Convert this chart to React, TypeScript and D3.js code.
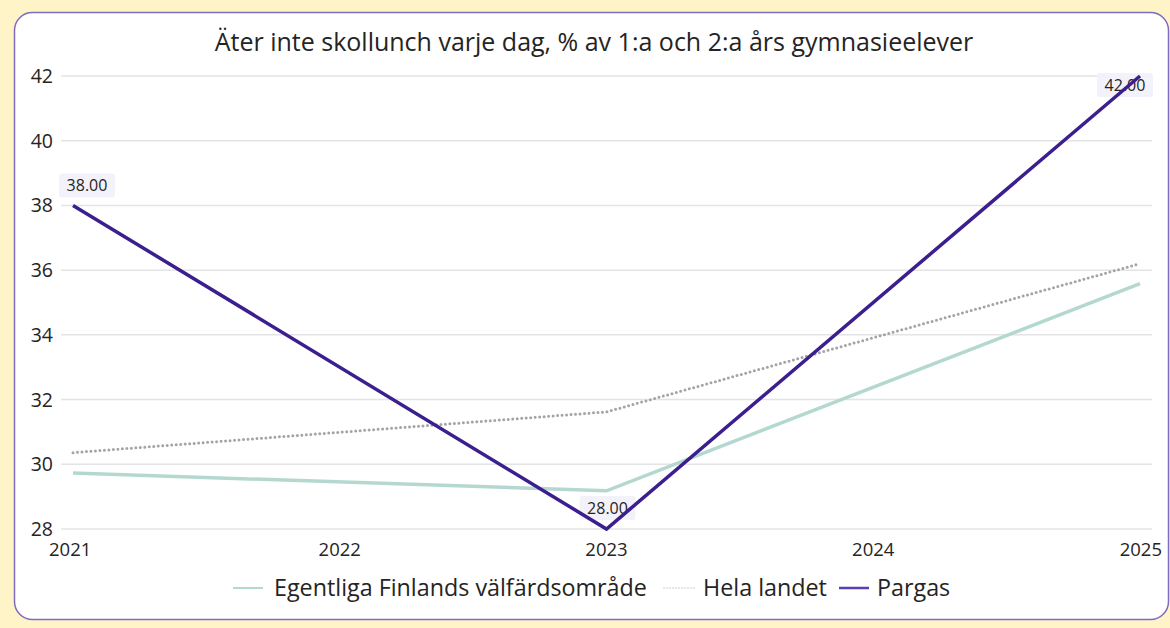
import React from "react";
import * as d3 from "d3";

const years = [2021, 2022, 2023, 2024, 2025];
const dataYears = [2021, 2023, 2025];
const egentliga = [29.73, 29.18, 35.58];
const helaLandet = [30.36, 31.62, 36.2];
const pargas = [38, 28, 42];
const yTicks = [28, 30, 32, 34, 36, 38, 40, 42];
const seriesNames = ["Egentliga Finlands välfärdsområde", "Hela landet", "Pargas"];
const title = "Äter inte skollunch varje dag, % av 1:a och 2:a års gymnasieelever";

const W = 1170;
const H = 628;
const FONT = "'Open Sans', 'Noto Sans', sans-serif";
const TXT = "#252423";

export default function App() {
  const x = d3.scaleLinear().domain([2021, 2025]).range([73, 1140]);
  const y = d3.scaleLinear().domain([28, 42]).range([529, 76]);
  const line = d3
    .line<number>()
    .x((_, i) => x(dataYears[i]))
    .y((d) => y(d));

  const labelBox = (cx: number, cy: number, text: string, key: string) => (
    <g key={key}>
      <rect x={cx - 28} y={cy - 12} width={56} height={24} rx={3} fill="#f3f1f9" />
      <text x={cx} y={cy + 6} textAnchor="middle" fontSize={16} fill={TXT} fontFamily={FONT}>
        {text}
      </text>
    </g>
  );

  return (
    <div style={{ position: "fixed", left: 0, top: 0 }}>
      <svg width={W} height={H} style={{ display: "block" }}>
        <rect x={0} y={0} width={W} height={H} fill="#fff3c8" />
        <rect x={14.5} y={12.5} width={1154} height={607} rx={18} fill="#ffffff" stroke="#7d6cc0" strokeWidth={1.5} />
        <text x={594} y={51} textAnchor="middle" fontSize={25} fill={TXT} fontFamily={FONT}>
          {title}
        </text>
        {yTicks.map((t) => (
          <g key={t}>
            <line x1={61} x2={1152} y1={y(t)} y2={y(t)} stroke="#e4e4e4" strokeWidth={1.5} />
            <text x={53} y={y(t) + 7} textAnchor="end" fontSize={19.5} fill={TXT} fontFamily={FONT}>
              {t}
            </text>
          </g>
        ))}
        {years.map((yr, i) => (
          <text
            key={yr}
            x={i === 0 ? x(yr) - 24 : i === years.length - 1 ? x(yr) + 22 : x(yr)}
            y={556}
            textAnchor={i === 0 ? "start" : i === years.length - 1 ? "end" : "middle"}
            fontSize={18.5}
            fill={TXT}
            fontFamily={FONT}
          >
            {yr}
          </text>
        ))}
        <path d={line(egentliga) || ""} fill="none" stroke="#b4d8d0" strokeWidth={3.5} />
        <path
          d={line(helaLandet) || ""}
          fill="none"
          stroke="#a4a4a4"
          strokeWidth={3}
          strokeDasharray="0 4.5"
          strokeLinecap="round"
        />
        {labelBox(x(dataYears[0]) + 14, y(pargas[0]) - 20, pargas[0].toFixed(2), "l0")}
        {labelBox(x(dataYears[1]) + 1, y(pargas[1]) - 21, pargas[1].toFixed(2), "l1")}
        {labelBox(x(dataYears[2]) - 15, y(pargas[2]) + 9, pargas[2].toFixed(2), "l2")}
        <path d={line(pargas) || ""} fill="none" stroke="#3b1f8e" strokeWidth={3.5} strokeLinejoin="miter" />
        <g fontFamily={FONT} fontSize={23.3} fill={TXT}>
          <line x1={233} x2={263} y1={588} y2={588} stroke="#b4d8d0" strokeWidth={2} />
          <text x={274} y={596}>{seriesNames[0]}</text>
          <line x1={664} x2={695} y1={588} y2={588} stroke="#c4c4c4" strokeWidth={1.5} strokeDasharray="0 3" strokeLinecap="round" />
          <text x={703} y={596}>{seriesNames[1]}</text>
          <line x1={839} x2={869} y1={588} y2={588} stroke="#5a3fb0" strokeWidth={2.5} />
          <text x={877} y={596}>{seriesNames[2]}</text>
        </g>
      </svg>
    </div>
  );
}
